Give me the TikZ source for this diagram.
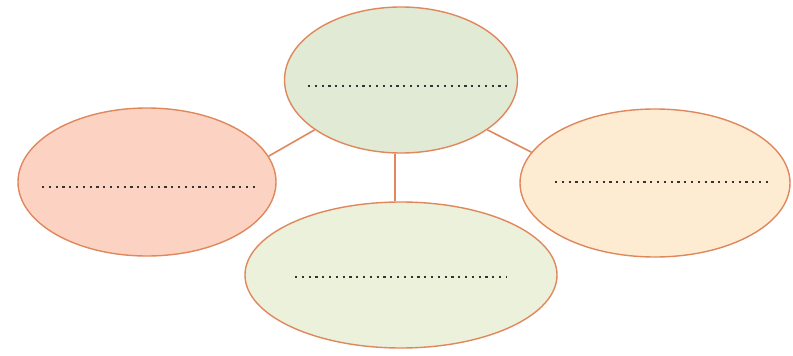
\documentclass[tikz,border=0pt]{standalone}
\usetikzlibrary{shapes.geometric}
\definecolor{edgeor}{HTML}{E0875C}
\definecolor{topfill}{HTML}{E1EAD4}
\definecolor{leftfill}{HTML}{FCD3C2}
\definecolor{rightfill}{HTML}{FDEBD2}
\definecolor{botfill}{HTML}{EBF1DA}
\tikzset{
  bubble/.style={ellipse, draw=edgeor, line width=1.4pt, inner sep=0pt},
  link/.style={draw=edgeor, line width=1.6pt},
  dots/.style={draw=black!80, line width=1.2pt, dash pattern=on 2.2pt off 4.6pt}
}
\begin{document}
\begin{tikzpicture}[x=1pt,y=-1pt]
\useasboundingbox (0,0) rectangle (793,356);
\node[bubble, fill=topfill, minimum width=233pt, minimum height=146pt] (top) at (401,80) {};
\node[bubble, fill=leftfill, minimum width=258pt, minimum height=148pt] (left) at (147,182) {};
\node[bubble, fill=rightfill, minimum width=270pt, minimum height=148pt] (right) at (655,183) {};
\node[bubble, fill=botfill, minimum width=312pt, minimum height=146pt] (bot) at (401,275) {};
\draw[link] (top.210) -- (left.12);
\draw[link] (top.330) -- (right.166);
\draw[link] ([xshift=-6pt]top.south) -- ([xshift=-6pt]bot.north);
\draw[dots] ([xshift=-93pt,yshift=-6pt]top.center) -- ++(199,0);
\draw[dots] ([xshift=-105pt,yshift=-5pt]left.center) -- ++(213,0);
\draw[dots] ([xshift=-100pt,yshift=1pt]right.center) -- ++(213,0);
\draw[dots] ([xshift=-106pt,yshift=-2pt]bot.center) -- ++(212,0);
\end{tikzpicture}
\end{document}
